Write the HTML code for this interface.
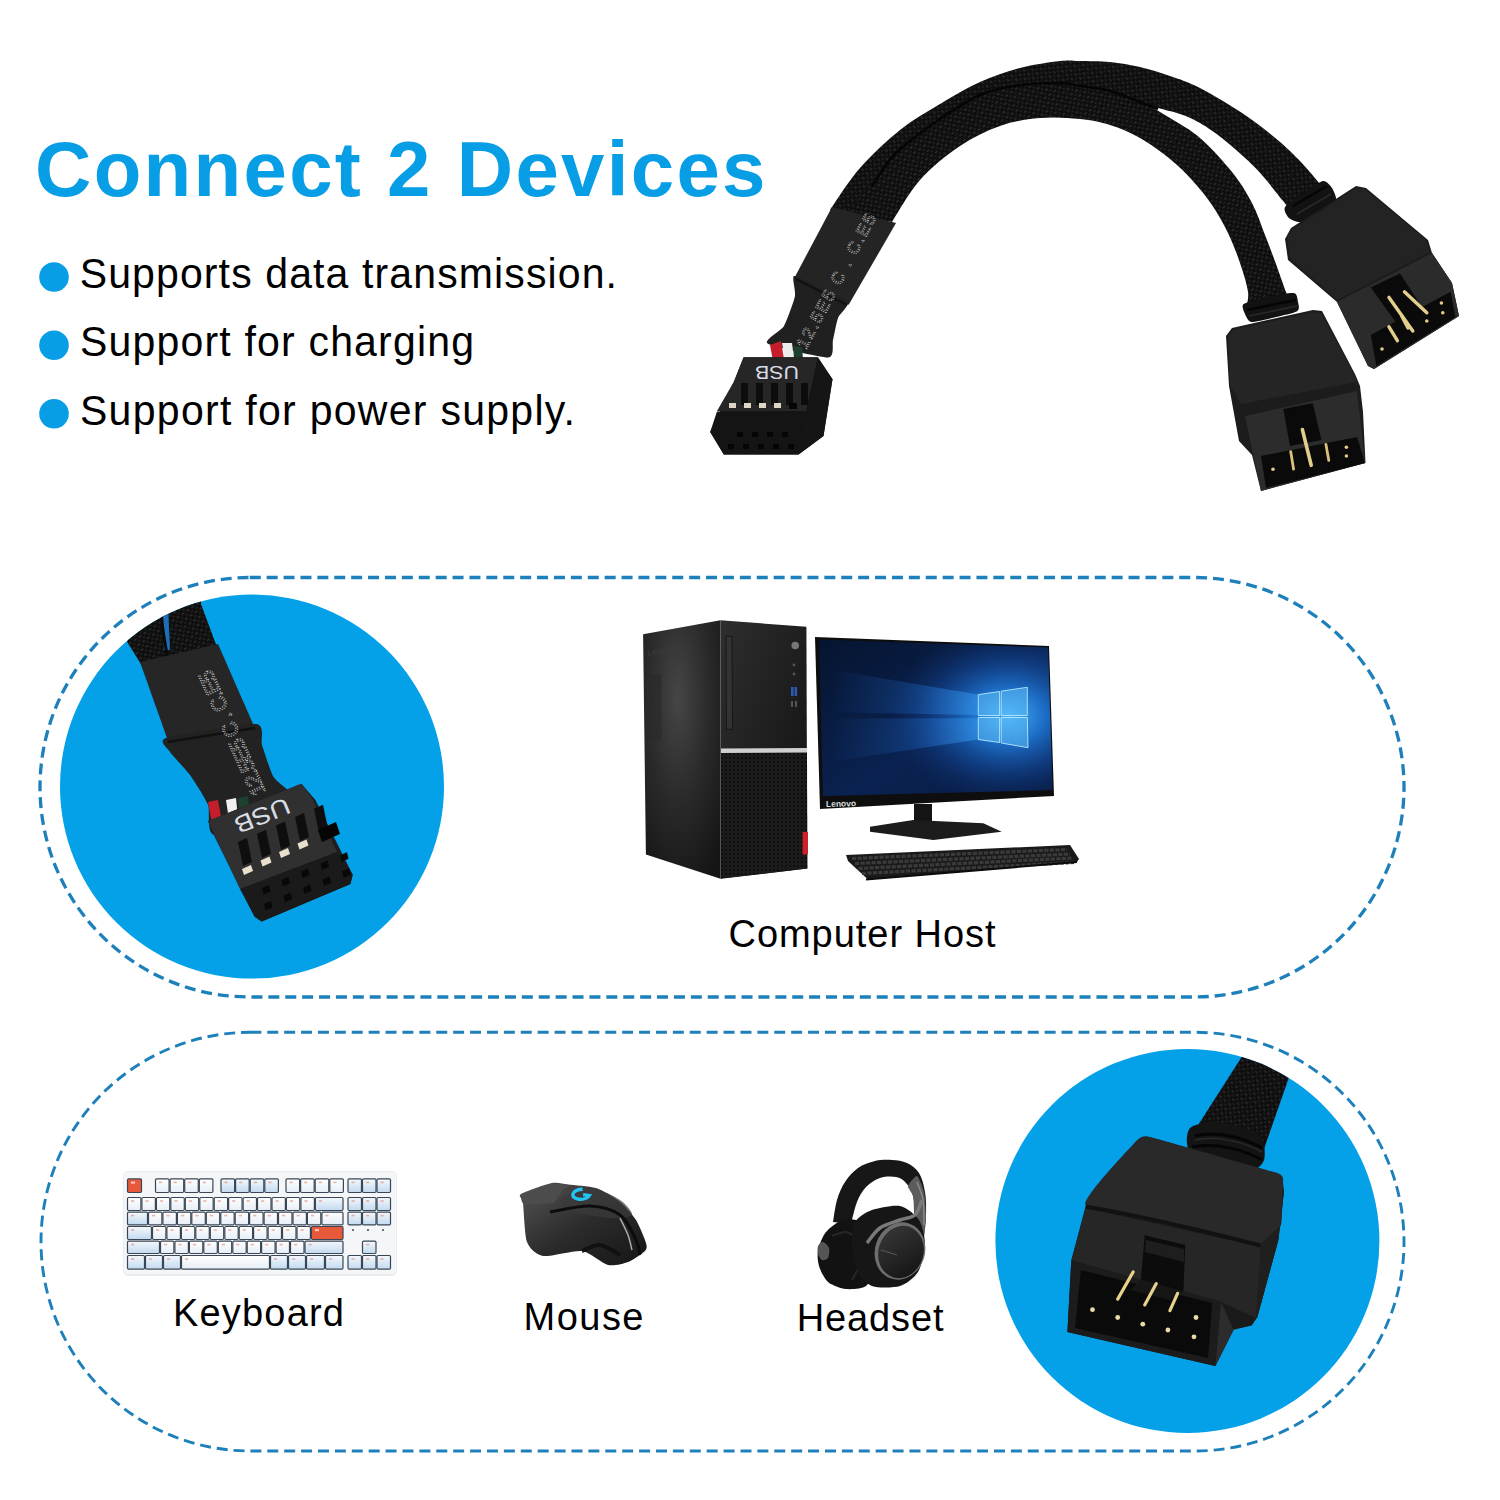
<!DOCTYPE html>
<html><head><meta charset="utf-8">
<style>
html,body{margin:0;padding:0;background:#fff;width:1500px;height:1500px;overflow:hidden}
svg{position:absolute;left:0;top:0;display:block}
text{font-family:"Liberation Sans",sans-serif}
</style></head><body>
<svg width="1500" height="1500" viewBox="0 0 1500 1500">

<defs>
  <clipPath id="c1"><circle cx="252" cy="786.6" r="192"/></clipPath>
  <clipPath id="c2"><circle cx="1187.4" cy="1241" r="192"/></clipPath>
  <pattern id="braid" width="6" height="6" patternUnits="userSpaceOnUse" patternTransform="rotate(40)">
    <rect width="6" height="6" fill="#0d0d0d"/>
    <rect x="0" y="0.8" width="3.6" height="1.6" rx="0.8" fill="#2a2a2a"/>
    <rect x="3" y="3.8" width="3.6" height="1.6" rx="0.8" fill="#1f1f1f"/>
  </pattern>
  <pattern id="braid2" width="6" height="6" patternUnits="userSpaceOnUse" patternTransform="rotate(-35)">
    <rect width="6" height="6" fill="#0d0d0d"/>
    <rect x="0" y="0.8" width="3.6" height="1.6" rx="0.8" fill="#2c2c2c"/>
    <rect x="3" y="3.8" width="3.6" height="1.6" rx="0.8" fill="#202020"/>
  </pattern>
  <radialGradient id="scr" cx="0.72" cy="0.5" r="0.8">
    <stop offset="0" stop-color="#48b4f4"/>
    <stop offset="0.18" stop-color="#1c78d0"/>
    <stop offset="0.5" stop-color="#0e4492"/>
    <stop offset="1" stop-color="#06163c"/>
  </radialGradient>
  <radialGradient id="side" cx="0.45" cy="0.3" r="0.8">
    <stop offset="0" stop-color="#464646"/>
    <stop offset="0.5" stop-color="#2a2a2a"/>
    <stop offset="1" stop-color="#151515"/>
  </radialGradient>
  <linearGradient id="front" x1="0" y1="0" x2="1" y2="1">
    <stop offset="0" stop-color="#2e2e2e"/>
    <stop offset="1" stop-color="#101010"/>
  </linearGradient>
  <pattern id="mesh" width="4" height="4" patternUnits="userSpaceOnUse">
    <rect width="4" height="4" fill="#1b1b1b"/>
    <circle cx="2" cy="2" r="1.1" fill="#0c0c0c"/>
  </pattern>
  <linearGradient id="mouseg" x1="0" y1="0" x2="1" y2="1">
    <stop offset="0" stop-color="#555"/>
    <stop offset="0.5" stop-color="#2c2c2c"/>
    <stop offset="1" stop-color="#151515"/>
  </linearGradient>
  <linearGradient id="headg" x1="0" y1="0" x2="1" y2="1">
    <stop offset="0" stop-color="#3a3a3a"/>
    <stop offset="1" stop-color="#111"/>
  </linearGradient>
  <linearGradient id="keyb" x1="0" y1="0" x2="0" y2="1">
    <stop offset="0" stop-color="#f4f8fc"/>
    <stop offset="1" stop-color="#c2daf0"/>
  </linearGradient>
  <linearGradient id="keyw" x1="0" y1="0" x2="0" y2="1">
    <stop offset="0" stop-color="#ffffff"/>
    <stop offset="1" stop-color="#e6eef6"/>
  </linearGradient>
</defs>

<rect width="1500" height="1500" fill="#fff"/>

<text x="35" y="196" font-size="78" font-weight="bold" fill="#089ee6" textLength="730.5" lengthAdjust="spacing">Connect 2 Devices</text>
<circle cx="54" cy="277" r="14.8" fill="#089ee6"/>
<circle cx="54" cy="345.2" r="14.8" fill="#089ee6"/>
<circle cx="54" cy="413.7" r="14.8" fill="#089ee6"/>
<text x="79.7" y="0" font-size="41" fill="#000" textLength="537.3" lengthAdjust="spacing" transform="translate(0,287.6) scale(1,1.054)">Supports data transmission.</text>
<text x="80" y="0" font-size="41" fill="#000" textLength="394" lengthAdjust="spacing" transform="translate(0,356.2) scale(1,1.054)">Support for charging</text>
<text x="80" y="0" font-size="41" fill="#000" textLength="495" lengthAdjust="spacing" transform="translate(0,424.7) scale(1,1.054)">Support for power supply.</text>

<path d="M830.0,210.0 C835.0,203.0 848.3,181.3 860.0,168.0 C871.7,154.7 886.7,140.7 900.0,130.0 C913.3,119.3 926.7,112.0 940.0,104.0 C953.3,96.0 966.7,88.0 980.0,82.0 C993.3,76.0 1006.7,71.5 1020.0,68.0 C1033.3,64.5 1050.0,62.2 1060.0,61.0 C1070.0,59.8 1071.7,60.8 1080.0,61.0 C1088.3,61.2 1100.0,61.0 1110.0,62.0 C1120.0,63.0 1130.0,64.7 1140.0,67.0 C1150.0,69.3 1160.0,72.5 1170.0,76.0 C1180.0,79.5 1187.4,81.5 1200.0,88.0 C1212.6,94.5 1232.5,106.6 1245.4,115.2 C1258.3,123.8 1268.3,132.2 1277.4,139.8 C1286.5,147.5 1292.9,153.7 1300.0,161.1 C1307.1,168.5 1316.7,180.2 1320.0,184.0 L1295.0,216.0 C1293.8,214.7 1290.0,210.6 1288.0,208.0 C1286.0,205.4 1288.0,207.2 1282.7,200.6 C1277.4,194.0 1265.8,178.7 1256.0,168.6 C1246.2,158.5 1233.3,147.4 1224.0,139.8 C1214.7,132.2 1207.3,127.3 1200.0,123.0 C1192.7,118.7 1187.0,116.5 1180.0,114.0 C1173.0,111.5 1169.7,111.2 1158.0,108.0 C1146.3,104.8 1129.7,96.3 1110.0,95.0 C1090.3,93.7 1061.7,95.8 1040.0,100.0 C1018.3,104.2 1000.0,108.3 980.0,120.0 C960.0,131.7 936.7,153.7 920.0,170.0 C903.3,186.3 886.7,210.0 880.0,218.0 Z" fill="url(#braid)"/>
<path d="M846.0,214.0 C850.0,209.3 861.7,196.3 870.0,186.0 C878.3,175.7 884.3,163.3 896.0,152.0 C907.7,140.7 926.0,127.7 940.0,118.0 C954.0,108.3 966.7,99.7 980.0,94.0 C993.3,88.3 1006.7,86.0 1020.0,84.0 C1033.3,82.0 1050.0,81.8 1060.0,82.0 C1070.0,82.2 1071.7,83.7 1080.0,85.0 C1088.3,86.3 1100.0,87.3 1110.0,90.0 C1120.0,92.7 1130.0,96.3 1140.0,101.0 C1150.0,105.7 1160.0,111.8 1170.0,118.0 C1180.0,124.2 1189.7,129.0 1200.0,138.0 C1210.3,147.0 1223.3,161.2 1232.0,172.0 C1240.7,182.8 1246.5,192.5 1252.0,203.0 C1257.5,213.5 1261.0,224.8 1265.0,235.0 C1269.0,245.2 1272.5,254.5 1276.0,264.0 C1279.5,273.5 1283.3,285.0 1286.0,292.0 C1288.7,299.0 1291.0,303.7 1292.0,306.0 L1246.0,308.0 C1246.3,305.3 1249.0,299.5 1248.0,292.0 C1247.0,284.5 1243.3,272.8 1240.0,263.0 C1236.7,253.2 1232.7,242.7 1228.0,233.0 C1223.3,223.3 1218.0,213.8 1212.0,205.0 C1206.0,196.2 1199.0,187.7 1192.0,180.0 C1185.0,172.3 1178.7,166.0 1170.0,159.0 C1161.3,152.0 1150.0,143.7 1140.0,138.0 C1130.0,132.3 1120.0,128.2 1110.0,125.0 C1100.0,121.8 1091.7,120.2 1080.0,119.0 C1068.3,117.8 1053.3,116.8 1040.0,118.0 C1026.7,119.2 1013.3,121.3 1000.0,126.0 C986.7,130.7 973.3,137.0 960.0,146.0 C946.7,155.0 931.3,167.3 920.0,180.0 C908.7,192.7 896.7,215.0 892.0,222.0 Z" fill="url(#braid2)"/>
<path d="M872.0,186.0 C876.0,180.5 884.7,164.2 896.0,153.0 C907.3,141.8 926.0,128.7 940.0,119.0 C954.0,109.3 966.7,100.7 980.0,95.0 C993.3,89.3 1006.7,87.0 1020.0,85.0 C1033.3,83.0 1050.0,82.8 1060.0,83.0 C1070.0,83.2 1071.7,84.7 1080.0,86.0 C1088.3,87.3 1100.0,88.3 1110.0,91.0 C1120.0,93.7 1132.0,99.0 1140.0,102.0 C1148.0,105.0 1155.0,107.8 1158.0,109.0" fill="none" stroke="#050505" stroke-width="2.5"/>
<path d="M1285.0,207.0 C1286.9,204.0 1300.6,195.0 1305.0,192.0 C1309.4,189.0 1319.8,181.5 1323.0,181.0 C1326.2,180.5 1330.5,185.6 1332.0,188.0 C1333.5,190.4 1337.6,199.0 1336.0,202.0 C1334.4,205.0 1322.1,211.7 1318.0,214.0 C1313.9,216.3 1304.4,221.5 1301.0,222.0 C1297.6,222.5 1290.9,219.8 1289.0,218.0 C1287.1,216.2 1283.1,210.0 1285.0,207.0 Z" fill="#121212"/>
<path d="M1293,206 L1327,186" stroke="#050505" stroke-width="2.5"/><path d="M1297,214 L1331,194" stroke="#2a2a2a" stroke-width="1.5"/>
<path d="M1243.7,304.0 C1246.4,302.0 1262.1,298.3 1268.0,297.0 C1273.9,295.7 1290.4,292.5 1293.9,293.1 C1297.4,293.7 1297.6,299.9 1298.0,302.0 C1298.4,304.1 1300.1,309.3 1297.1,311.2 C1294.1,313.1 1277.4,316.7 1272.0,318.0 C1266.6,319.3 1254.4,322.5 1251.2,322.0 C1248.0,321.5 1245.9,316.1 1245.0,314.0 C1244.1,311.9 1241.0,306.0 1243.7,304.0 Z" fill="#121212"/>
<path d="M1247,310 L1296,300" stroke="#050505" stroke-width="2.5"/><path d="M1249,316 L1297,306" stroke="#2a2a2a" stroke-width="1.5"/>
<path d="M832.0,207.0 L896.0,223.0 L894.3,226.0 L848.7,304.8 L794.2,278.2 Z" fill="#242424"/>
<path d="M794.0,276.0 C796.5,275.2 814.6,285.4 820.0,288.0 C825.4,290.6 846.2,299.0 848.0,302.0 C849.8,305.0 839.5,314.2 838.0,318.0 C836.5,321.8 834.0,336.1 833.0,340.0 C832.0,343.9 834.9,357.1 828.4,357.4 C821.9,357.7 772.0,346.5 767.6,343.4 C763.2,340.3 781.3,330.7 784.0,326.0 C786.7,321.3 794.0,301.0 795.0,296.0 C796.0,291.0 791.5,276.8 794.0,276.0 Z" fill="#202020"/>
<path d="M796,279 L847,305" stroke="#111" stroke-width="2"/>
<text font-size="17" fill="none" stroke="#c8c8c8" stroke-width="1" stroke-dasharray="0.9 1.4" transform="translate(806,350) rotate(-62)" textLength="150" lengthAdjust="spacing">12.5E5 C . C.E5</text>
<path d="M770,345 L781,341 L784,359 L773,361 Z" fill="#c41e2a"/>
<path d="M782,343 L792,343 L794,359 L785,359 Z" fill="#ececec"/>
<path d="M793,346 L802,347 L803,359 L794,359 Z" fill="#1f3f2c"/>
<path d="M743.6,357.2 L817.8,357.2 L832.5,379.3 L823.5,436.0 L798.6,454.6 L723.8,454.6 L710.2,432.0 L734.0,381.6 Z" fill="#1c1c1c"/>
<path d="M743.6,357.2 L817.8,357.2 L820.0,372.0 L806.0,411.0 L717.0,411.0 L734.0,381.6 Z" fill="#262626"/>
<path d="M817.8,357.2 L832.5,379.3 L823.5,436.0 L798.6,454.6 L806.0,411.0 Z" fill="#151515"/>
<path d="M717.0,411.6 L806.0,411.0 L798.6,454.6 L723.8,454.6 L710.2,432.0 Z" fill="#141414"/>
<text font-size="19" fill="#d6dbe6" transform="translate(799,366) rotate(180)" textLength="44" lengthAdjust="spacingAndGlyphs">USB</text>
<rect x="741" y="383" width="7" height="22" fill="#0c0c0c"/>
<rect x="756" y="383" width="7" height="22" fill="#0c0c0c"/>
<rect x="771" y="383" width="7" height="22" fill="#0c0c0c"/>
<rect x="786" y="383" width="7" height="22" fill="#0c0c0c"/>
<rect x="801" y="383" width="7" height="22" fill="#0c0c0c"/>
<rect x="729" y="403" width="7" height="5" fill="#dcd6c2"/>
<rect x="744" y="403" width="7" height="5" fill="#dcd6c2"/>
<rect x="759" y="403" width="7" height="5" fill="#dcd6c2"/>
<rect x="774" y="403" width="7" height="5" fill="#dcd6c2"/>
<rect x="789" y="403" width="8" height="6" fill="#050505"/>
<rect x="737" y="432" width="6" height="5" fill="#050505"/>
<rect x="752" y="432" width="6" height="5" fill="#050505"/>
<rect x="767" y="432" width="6" height="5" fill="#050505"/>
<rect x="782" y="432" width="6" height="5" fill="#050505"/>
<rect x="728" y="444" width="6" height="5" fill="#050505"/>
<rect x="743" y="444" width="6" height="5" fill="#050505"/>
<rect x="758" y="444" width="6" height="5" fill="#050505"/>
<rect x="773" y="444" width="6" height="5" fill="#050505"/>
<rect x="788" y="444" width="6" height="5" fill="#050505"/>
<path d="M1285.0,239.0 L1291.0,228.0 L1356.0,186.0 L1366.0,188.0 L1428.0,240.0 L1432.0,253.0 L1452.0,283.0 L1459.0,316.0 L1374.0,369.0 L1368.0,366.0 L1337.0,302.0 L1288.0,260.0 Z" fill="#1c1c1c"/>
<path d="M1287.0,236.0 L1293.0,229.0 L1356.0,188.0 L1365.0,189.0 L1426.0,240.0 L1430.0,252.0 L1337.0,300.0 L1290.0,258.0 Z" fill="#232323"/>
<path d="M1337.0,302.0 L1432.0,253.0 L1452.0,283.0 L1459.0,316.0 L1374.0,369.0 L1368.0,366.0 Z" fill="#2b2b2b"/>
<path d="M1370.8,335.1 L1450.5,291.8 L1455.4,317.0 L1376.4,366.0 Z" fill="#0a0a0a"/>
<path d="M1370.8,287.6 L1400.0,273.6 L1424.0,310.0 L1396.0,322.6 Z" fill="#0a0a0a"/>
<g stroke="#e2cf8c" stroke-width="3.4" stroke-linecap="round" fill="none"><path d="M1389,297.4 L1412.8,331"/><path d="M1401.6,315.6 L1408,328"/><path d="M1389,326.8 L1397.4,340.7"/><path d="M1404.4,291.8 L1426.8,312.8"/></g>
<g fill="#e0cc88"><circle cx="1382" cy="349" r="1.8"/><circle cx="1441.4" cy="303" r="1.8"/><circle cx="1442.8" cy="312.8" r="1.8"/><circle cx="1426.8" cy="321" r="1.8"/></g>
<path d="M1226.0,336.0 L1232.0,328.0 L1313.0,310.0 L1322.0,311.0 L1355.0,374.0 L1360.0,386.0 L1363.0,412.0 L1365.5,463.0 L1261.0,491.0 L1252.0,455.0 L1239.0,441.0 L1229.0,386.0 Z" fill="#1c1c1c"/>
<path d="M1228.0,336.0 L1233.0,330.0 L1313.0,312.0 L1321.0,313.0 L1354.0,374.0 L1357.0,382.0 L1241.0,404.0 L1230.0,385.0 Z" fill="#252525"/>
<path d="M1245.0,416.0 L1357.0,391.0 L1365.0,463.0 L1261.0,491.0 Z" fill="#2c2c2c"/>
<path d="M1283.3,409.0 L1312.7,403.2 L1321.5,440.0 L1290.0,446.0 Z" fill="#0a0a0a"/>
<path d="M1261.0,456.0 L1357.0,437.0 L1365.0,463.0 L1266.0,488.0 Z" fill="#0a0a0a"/>
<g stroke="#e2cf8c" stroke-width="3.6" stroke-linecap="round" fill="none"><path d="M1302.4,429.6 L1311.2,465.3"/></g>
<g stroke="#d8c27a" stroke-width="2.8" stroke-linecap="round" fill="none"><path d="M1290.7,451.6 L1293.6,469.2"/><path d="M1325.9,444.3 L1328.8,460.4"/></g>
<g fill="#e0cc88"><circle cx="1273" cy="469.2" r="1.8"/><circle cx="1346.4" cy="447.2" r="1.8"/><circle cx="1346.4" cy="456" r="1.8"/></g>
<rect x="40" y="577.5" width="1364" height="419.5" rx="209.75" fill="none" stroke="#1e80bb" stroke-width="3.3" stroke-dasharray="11 5.9"/>
<rect x="41" y="1032.3" width="1363" height="418.7" rx="209.35" fill="none" stroke="#1e80bb" stroke-width="2.9" stroke-dasharray="11 5.9"/>
<circle cx="252" cy="786.6" r="192" fill="#04a0e8"/>
<circle cx="1187.4" cy="1241" r="192" fill="#04a0e8"/>
<g clip-path="url(#c1)">
<path d="M118.0,560.0 L200.0,560.0 L201.0,604.0 L217.3,648.0 L142.7,667.0 L127.5,642.5 Z" fill="url(#braid2)"/>
<path d="M160.0,560.0 L166.0,560.0 L170.0,650.0 L164.0,650.0 Z" fill="#1c6fb8"/>
<path d="M160.0,600.0 C160.5,605.0 161.7,620.0 163.0,630.0 C164.3,640.0 167.2,655.0 168.0,660.0" stroke="#0a0a0a" stroke-width="3" fill="none"/>
<path d="M140.0,662.0 L218.0,644.0 L254.7,727.7 L168.3,741.7 Z" fill="#262626"/>
<path d="M166.0,738.0 C174.6,735.2 246.4,723.3 256.0,724.0 C265.6,724.7 260.3,739.7 262.0,745.0 C263.7,750.3 270.6,772.0 273.4,776.7 C276.2,781.4 287.3,788.7 290.0,792.0 C292.7,795.3 307.5,805.7 300.0,810.0 C292.5,814.3 224.2,835.5 215.0,835.0 C205.8,834.5 210.5,810.7 208.0,804.7 C205.5,798.7 193.8,780.3 190.0,775.0 C186.2,769.7 172.4,755.7 170.0,752.0 C167.6,748.3 157.4,740.8 166.0,738.0 Z" fill="#222"/>
<path d="M168,742 L255,728" stroke="#111" stroke-width="2.5"/>
<text font-size="21" fill="none" stroke="#d0d0d0" stroke-width="1.1" stroke-dasharray="1 1.5" transform="translate(266,792) rotate(-114)" textLength="135" lengthAdjust="spacing">12.5E5 C . C.E5</text>
<path d="M208,802 L218,800 L222,822 L212,824 Z" fill="#c41e2a"/>
<path d="M226,800 L236,798 L238,818 L229,820 Z" fill="#f0f0f0"/>
<path d="M238,798 L248,796 L250,816 L240,818 Z" fill="#1e4030"/>
<path d="M208.0,821.0 L301.4,783.7 L315.4,800.0 L352.7,874.7 L350.4,884.0 L261.7,921.4 L254.7,916.7 L215.0,837.4 Z" fill="#1e1e1e"/>
<path d="M208.0,821.0 L301.4,783.7 L312.0,798.0 L337.0,852.0 L240.0,889.0 L216.0,838.0 Z" fill="#303030"/>
<path d="M240.0,889.0 L337.0,852.0 L352.7,874.7 L350.4,884.0 L261.7,921.4 L254.7,916.7 Z" fill="#1a1a1a"/>
<text font-size="24" fill="#d8dde6" transform="translate(286,797) rotate(158)" textLength="58" lengthAdjust="spacingAndGlyphs">USB</text>
<path d="M238.0,842.0 L247.0,838.0 L252.0,862.0 L243.0,866.0 Z" fill="#0e0e0e"/>
<path d="M257.0,833.7 L266.0,829.7 L271.0,853.7 L262.0,857.7 Z" fill="#0e0e0e"/>
<path d="M276.0,825.4 L285.0,821.4 L290.0,845.4 L281.0,849.4 Z" fill="#0e0e0e"/>
<path d="M295.0,817.1 L304.0,813.1 L309.0,837.1 L300.0,841.1 Z" fill="#0e0e0e"/>
<path d="M314.0,808.8 L323.0,804.8 L328.0,828.8 L319.0,832.8 Z" fill="#0e0e0e"/>
<path d="M242.0,869.0 L251.0,865.0 L253.0,871.0 L244.0,875.0 Z" fill="#e8e0cc"/>
<path d="M260.5,860.5 L269.5,856.5 L271.5,862.5 L262.5,866.5 Z" fill="#e8e0cc"/>
<path d="M279.0,852.0 L288.0,848.0 L290.0,854.0 L281.0,858.0 Z" fill="#e8e0cc"/>
<path d="M297.5,843.5 L306.5,839.5 L308.5,845.5 L299.5,849.5 Z" fill="#e8e0cc"/>
<path d="M318.0,830.0 L336.0,822.0 L340.0,834.0 L322.0,842.0 Z" fill="#050505"/>
<path d="M262.0,888.0 L269.0,885.0 L270.5,891.5 L263.5,894.5 Z" fill="#080808"/>
<path d="M281.5,879.8 L288.5,876.8 L290.0,883.3 L283.0,886.3 Z" fill="#080808"/>
<path d="M301.0,871.6 L308.0,868.6 L309.5,875.1 L302.5,878.1 Z" fill="#080808"/>
<path d="M320.5,863.4 L327.5,860.4 L329.0,866.9 L322.0,869.9 Z" fill="#080808"/>
<path d="M340.0,855.2 L347.0,852.2 L348.5,858.7 L341.5,861.7 Z" fill="#080808"/>
<path d="M264.0,904.0 L271.0,901.0 L272.5,907.5 L265.5,910.5 Z" fill="#080808"/>
<path d="M283.5,895.8 L290.5,892.8 L292.0,899.3 L285.0,902.3 Z" fill="#080808"/>
<path d="M303.0,887.6 L310.0,884.6 L311.5,891.1 L304.5,894.1 Z" fill="#080808"/>
<path d="M322.5,879.4 L329.5,876.4 L331.0,882.9 L324.0,885.9 Z" fill="#080808"/>
<path d="M342.0,871.2 L349.0,868.2 L350.5,874.7 L343.5,877.7 Z" fill="#080808"/>
</g>
<path d="M643.1,634.3 L720.5,620.3 L720.5,878.8 L645.9,854.5 Z" fill="url(#side)"/>
<path d="M720.5,620.3 L806.4,626.8 L807.3,868.5 L720.5,878.8 Z" fill="url(#front)"/>
<path d="M721.0,753.0 L807.0,752.5 L807.3,868.5 L721.0,878.5 Z" fill="url(#mesh)"/>
<path d="M721.0,748.5 L807.0,748.0 L807.0,752.5 L721.0,753.0 Z" fill="#d0d0d0"/>
<rect x="802.5" y="832" width="5.5" height="22.5" fill="#c8232c"/>
<path d="M726.0,636.0 L732.0,636.5 L732.5,729.5 L726.5,729.0 Z" fill="#333" stroke="#111" stroke-width="0.8"/>
<circle cx="795.2" cy="645.5" r="3.8" fill="#777"/>
<rect x="791" y="687" width="2.6" height="9" fill="#2d5ab0"/><rect x="794.5" y="687" width="2.6" height="9" fill="#2d5ab0"/><rect x="791" y="701" width="2" height="6" fill="#555"/><rect x="795" y="701" width="2" height="6" fill="#555"/><circle cx="794" cy="665" r="1.4" fill="#555"/><circle cx="794" cy="674" r="1.4" fill="#555"/>
<rect x="649.6" y="674.4" width="12" height="66" fill="#2a2a2a" opacity="0.6"/>
<text x="648" y="656" font-size="8" fill="#3c3c3c" transform="rotate(-10 648 656)">Lenovo</text>
<defs><radialGradient id="glow" gradientUnits="userSpaceOnUse" cx="1008" cy="716" r="120" gradientTransform="translate(1008 716) scale(1 0.75) translate(-1008 -716)"><stop offset="0" stop-color="#49b2f5" stop-opacity="1"/><stop offset="0.3" stop-color="#1f78d6" stop-opacity="0.9"/><stop offset="0.65" stop-color="#1550a8" stop-opacity="0.45"/><stop offset="1" stop-color="#0c2f70" stop-opacity="0"/></radialGradient><linearGradient id="beam" gradientUnits="userSpaceOnUse" x1="830" y1="0" x2="1000" y2="0"><stop offset="0" stop-color="#1c5fb8" stop-opacity="0"/><stop offset="0.5" stop-color="#1d64c0" stop-opacity="0.35"/><stop offset="1" stop-color="#3a9ef0" stop-opacity="0.85"/></linearGradient><linearGradient id="scrbase" x1="0" y1="0" x2="1" y2="1"><stop offset="0" stop-color="#06142f"/><stop offset="0.55" stop-color="#0a2250"/><stop offset="1" stop-color="#081c44"/></linearGradient></defs>
<path d="M815.0,637.0 L1049.0,646.0 L1054.0,796.0 L820.0,809.0 Z" fill="#0e0e0e"/>
<path d="M819.0,639.5 L1048.0,647.5 L1052.5,790.0 L823.0,796.0 Z" fill="url(#scrbase)"/>
<g clip-path="url(#scrclip)">
<clipPath id="scrclip"><path d="M819.0,639.5 L1048.0,647.5 L1052.5,790.0 L823.0,796.0 Z"/></clipPath>
<rect x="815" y="635" width="240" height="165" fill="url(#glow)"/>
<path d="M815.0,667.0 L978.0,694.6 L978.0,715.0 L815.0,712.0 Z" fill="url(#beam)"/>
<path d="M815.0,718.5 L978.0,718.3 L978.0,739.5 L815.0,764.0 Z" fill="url(#beam)"/>
</g>
<g fill="#5ec0f8" fill-opacity="0.55" stroke="#b6e8ff" stroke-width="0.9"><path d="M978.3,694.6 L999.6,691.5 L999.6,715.5 L978.3,715.5 Z"/><path d="M1001.2,691.2 L1027.3,687.3 L1027.3,715.5 L1001.2,715.5 Z"/><path d="M978.3,717.5 L999.6,717.5 L999.6,742.5 L978.3,739.5 Z"/><path d="M1001.2,717.5 L1027.3,717.5 L1028.0,747.7 L1001.2,743.0 Z"/></g>
<text x="826" y="807" font-size="8.5" fill="#dcdcdc" font-weight="bold" transform="rotate(-1.5 826 807)">Lenovo</text>
<rect x="914" y="804" width="18" height="17" fill="#141414"/>
<path d="M870.0,826.7 L913.3,820.0 L983.3,823.3 L1001.7,831.7 L933.3,840.0 L870.0,831.7 Z" fill="#1c1c1c"/>
<path d="M846.0,855.0 L1070.0,845.0 L1079.0,859.0 L1077.0,862.0 L868.0,879.5 L848.0,861.0 Z" fill="#1a1a1a"/>
<g stroke="#3a3a3a" stroke-width="3.2" stroke-dasharray="4.2 1.3" fill="none"><path d="M852,858.5 L1067,849.5"/><path d="M855,863.5 L1070,854"/><path d="M858.5,868.5 L1072,858"/><path d="M862,873.5 L1074,862.5"/></g>
<path d="M866,879.5 L1077,862" stroke="#0c0c0c" stroke-width="2"/>
<rect x="123" y="1171" width="274" height="105" rx="5" fill="#e8ecef"/>
<rect x="124" y="1172" width="272" height="102" rx="4" fill="#f4f6f8"/>
<rect x="127.5" y="1178.9" width="14.0" height="13.6" rx="1.2" fill="#e8583a" stroke="#3a4653" stroke-width="1.2"/>
<rect x="131.0" y="1181.6" width="4" height="2" fill="#ffd8cc" opacity="0.9"/>
<rect x="155.5" y="1178.9" width="13.6" height="13.6" rx="1.2" fill="url(#keyw)" stroke="#3a4653" stroke-width="1.2"/>
<rect x="159.0" y="1181.6" width="3.2" height="1.6" fill="#e07868" opacity="0.55"/>
<rect x="170.1" y="1178.9" width="13.6" height="13.6" rx="1.2" fill="url(#keyw)" stroke="#3a4653" stroke-width="1.2"/>
<rect x="173.6" y="1181.6" width="3.2" height="1.6" fill="#e07868" opacity="0.55"/>
<rect x="184.7" y="1178.9" width="13.6" height="13.6" rx="1.2" fill="url(#keyw)" stroke="#3a4653" stroke-width="1.2"/>
<rect x="188.2" y="1181.6" width="3.2" height="1.6" fill="#e07868" opacity="0.55"/>
<rect x="199.3" y="1178.9" width="13.6" height="13.6" rx="1.2" fill="url(#keyw)" stroke="#3a4653" stroke-width="1.2"/>
<rect x="202.8" y="1181.6" width="3.2" height="1.6" fill="#e07868" opacity="0.55"/>
<rect x="221.0" y="1178.9" width="13.6" height="13.6" rx="1.2" fill="url(#keyb)" stroke="#3a4653" stroke-width="1.2"/>
<rect x="224.5" y="1181.6" width="3.2" height="1.6" fill="#e07868" opacity="0.55"/>
<rect x="235.6" y="1178.9" width="13.6" height="13.6" rx="1.2" fill="url(#keyb)" stroke="#3a4653" stroke-width="1.2"/>
<rect x="239.1" y="1181.6" width="3.2" height="1.6" fill="#e07868" opacity="0.55"/>
<rect x="250.2" y="1178.9" width="13.6" height="13.6" rx="1.2" fill="url(#keyb)" stroke="#3a4653" stroke-width="1.2"/>
<rect x="253.7" y="1181.6" width="3.2" height="1.6" fill="#e07868" opacity="0.55"/>
<rect x="264.8" y="1178.9" width="13.6" height="13.6" rx="1.2" fill="url(#keyb)" stroke="#3a4653" stroke-width="1.2"/>
<rect x="268.3" y="1181.6" width="3.2" height="1.6" fill="#e07868" opacity="0.55"/>
<rect x="286.0" y="1178.9" width="13.6" height="13.6" rx="1.2" fill="url(#keyw)" stroke="#3a4653" stroke-width="1.2"/>
<rect x="289.5" y="1181.6" width="3.2" height="1.6" fill="#e07868" opacity="0.55"/>
<rect x="300.6" y="1178.9" width="13.6" height="13.6" rx="1.2" fill="url(#keyw)" stroke="#3a4653" stroke-width="1.2"/>
<rect x="304.1" y="1181.6" width="3.2" height="1.6" fill="#e07868" opacity="0.55"/>
<rect x="315.2" y="1178.9" width="13.6" height="13.6" rx="1.2" fill="url(#keyw)" stroke="#3a4653" stroke-width="1.2"/>
<rect x="318.7" y="1181.6" width="3.2" height="1.6" fill="#e07868" opacity="0.55"/>
<rect x="329.8" y="1178.9" width="13.6" height="13.6" rx="1.2" fill="url(#keyw)" stroke="#3a4653" stroke-width="1.2"/>
<rect x="333.3" y="1181.6" width="3.2" height="1.6" fill="#e07868" opacity="0.55"/>
<rect x="348.0" y="1178.9" width="13.5" height="13.6" rx="1.2" fill="url(#keyb)" stroke="#3a4653" stroke-width="1.2"/>
<rect x="351.5" y="1181.6" width="3.2" height="1.6" fill="#e07868" opacity="0.55"/>
<rect x="362.5" y="1178.9" width="13.5" height="13.6" rx="1.2" fill="url(#keyb)" stroke="#3a4653" stroke-width="1.2"/>
<rect x="366.0" y="1181.6" width="3.2" height="1.6" fill="#e07868" opacity="0.55"/>
<rect x="377.0" y="1178.9" width="13.5" height="13.6" rx="1.2" fill="url(#keyb)" stroke="#3a4653" stroke-width="1.2"/>
<rect x="380.5" y="1181.6" width="3.2" height="1.6" fill="#e07868" opacity="0.55"/>
<rect x="348.0" y="1197.5" width="13.5" height="13.0" rx="1.2" fill="url(#keyb)" stroke="#3a4653" stroke-width="1.2"/>
<rect x="351.5" y="1200.2" width="3.2" height="1.6" fill="#e07868" opacity="0.55"/>
<rect x="362.5" y="1197.5" width="13.5" height="13.0" rx="1.2" fill="url(#keyb)" stroke="#3a4653" stroke-width="1.2"/>
<rect x="366.0" y="1200.2" width="3.2" height="1.6" fill="#e07868" opacity="0.55"/>
<rect x="377.0" y="1197.5" width="13.5" height="13.0" rx="1.2" fill="url(#keyb)" stroke="#3a4653" stroke-width="1.2"/>
<rect x="380.5" y="1200.2" width="3.2" height="1.6" fill="#e07868" opacity="0.55"/>
<rect x="348.0" y="1212.1" width="13.5" height="12.8" rx="1.2" fill="url(#keyb)" stroke="#3a4653" stroke-width="1.2"/>
<rect x="351.5" y="1214.8" width="3.2" height="1.6" fill="#e07868" opacity="0.55"/>
<rect x="362.5" y="1212.1" width="13.5" height="12.8" rx="1.2" fill="url(#keyb)" stroke="#3a4653" stroke-width="1.2"/>
<rect x="366.0" y="1214.8" width="3.2" height="1.6" fill="#e07868" opacity="0.55"/>
<rect x="377.0" y="1212.1" width="13.5" height="12.8" rx="1.2" fill="url(#keyb)" stroke="#3a4653" stroke-width="1.2"/>
<rect x="380.5" y="1214.8" width="3.2" height="1.6" fill="#e07868" opacity="0.55"/>
<rect x="127.5" y="1197.5" width="13.4" height="13.0" rx="1.2" fill="url(#keyw)" stroke="#3a4653" stroke-width="1.2"/>
<rect x="131.0" y="1200.2" width="3.2" height="1.6" fill="#e07868" opacity="0.55"/>
<rect x="141.9" y="1197.5" width="13.5" height="13.0" rx="1.2" fill="url(#keyw)" stroke="#3a4653" stroke-width="1.2"/>
<rect x="145.4" y="1200.2" width="3.2" height="1.6" fill="#e07868" opacity="0.55"/>
<rect x="156.4" y="1197.5" width="13.4" height="13.0" rx="1.2" fill="url(#keyw)" stroke="#3a4653" stroke-width="1.2"/>
<rect x="159.9" y="1200.2" width="3.2" height="1.6" fill="#e07868" opacity="0.55"/>
<rect x="170.8" y="1197.5" width="13.5" height="13.0" rx="1.2" fill="url(#keyw)" stroke="#3a4653" stroke-width="1.2"/>
<rect x="174.3" y="1200.2" width="3.2" height="1.6" fill="#e07868" opacity="0.55"/>
<rect x="185.3" y="1197.5" width="13.4" height="13.0" rx="1.2" fill="url(#keyw)" stroke="#3a4653" stroke-width="1.2"/>
<rect x="188.8" y="1200.2" width="3.2" height="1.6" fill="#e07868" opacity="0.55"/>
<rect x="199.8" y="1197.5" width="13.4" height="13.0" rx="1.2" fill="url(#keyw)" stroke="#3a4653" stroke-width="1.2"/>
<rect x="203.2" y="1200.2" width="3.2" height="1.6" fill="#e07868" opacity="0.55"/>
<rect x="214.2" y="1197.5" width="13.4" height="13.0" rx="1.2" fill="url(#keyw)" stroke="#3a4653" stroke-width="1.2"/>
<rect x="217.7" y="1200.2" width="3.2" height="1.6" fill="#e07868" opacity="0.55"/>
<rect x="228.6" y="1197.5" width="13.5" height="13.0" rx="1.2" fill="url(#keyw)" stroke="#3a4653" stroke-width="1.2"/>
<rect x="232.1" y="1200.2" width="3.2" height="1.6" fill="#e07868" opacity="0.55"/>
<rect x="243.1" y="1197.5" width="13.4" height="13.0" rx="1.2" fill="url(#keyw)" stroke="#3a4653" stroke-width="1.2"/>
<rect x="246.6" y="1200.2" width="3.2" height="1.6" fill="#e07868" opacity="0.55"/>
<rect x="257.5" y="1197.5" width="13.5" height="13.0" rx="1.2" fill="url(#keyw)" stroke="#3a4653" stroke-width="1.2"/>
<rect x="261.0" y="1200.2" width="3.2" height="1.6" fill="#e07868" opacity="0.55"/>
<rect x="272.0" y="1197.5" width="13.4" height="13.0" rx="1.2" fill="url(#keyw)" stroke="#3a4653" stroke-width="1.2"/>
<rect x="275.5" y="1200.2" width="3.2" height="1.6" fill="#e07868" opacity="0.55"/>
<rect x="286.4" y="1197.5" width="13.4" height="13.0" rx="1.2" fill="url(#keyw)" stroke="#3a4653" stroke-width="1.2"/>
<rect x="289.9" y="1200.2" width="3.2" height="1.6" fill="#e07868" opacity="0.55"/>
<rect x="300.9" y="1197.5" width="13.5" height="13.0" rx="1.2" fill="url(#keyw)" stroke="#3a4653" stroke-width="1.2"/>
<rect x="304.4" y="1200.2" width="3.2" height="1.6" fill="#e07868" opacity="0.55"/>
<rect x="315.4" y="1197.5" width="27.6" height="13.0" rx="1.2" fill="url(#keyb)" stroke="#3a4653" stroke-width="1.2"/>
<rect x="318.9" y="1200.2" width="3.2" height="1.6" fill="#e07868" opacity="0.55"/>
<rect x="127.5" y="1212.1" width="20.0" height="12.8" rx="1.2" fill="url(#keyb)" stroke="#3a4653" stroke-width="1.2"/>
<rect x="131.0" y="1214.8" width="3.2" height="1.6" fill="#e07868" opacity="0.55"/>
<rect x="148.5" y="1212.1" width="13.4" height="12.8" rx="1.2" fill="url(#keyw)" stroke="#3a4653" stroke-width="1.2"/>
<rect x="152.0" y="1214.8" width="3.2" height="1.6" fill="#e07868" opacity="0.55"/>
<rect x="162.9" y="1212.1" width="13.5" height="12.8" rx="1.2" fill="url(#keyw)" stroke="#3a4653" stroke-width="1.2"/>
<rect x="166.4" y="1214.8" width="3.2" height="1.6" fill="#e07868" opacity="0.55"/>
<rect x="177.4" y="1212.1" width="13.4" height="12.8" rx="1.2" fill="url(#keyw)" stroke="#3a4653" stroke-width="1.2"/>
<rect x="180.9" y="1214.8" width="3.2" height="1.6" fill="#e07868" opacity="0.55"/>
<rect x="191.8" y="1212.1" width="13.5" height="12.8" rx="1.2" fill="url(#keyw)" stroke="#3a4653" stroke-width="1.2"/>
<rect x="195.3" y="1214.8" width="3.2" height="1.6" fill="#e07868" opacity="0.55"/>
<rect x="206.3" y="1212.1" width="13.4" height="12.8" rx="1.2" fill="url(#keyw)" stroke="#3a4653" stroke-width="1.2"/>
<rect x="209.8" y="1214.8" width="3.2" height="1.6" fill="#e07868" opacity="0.55"/>
<rect x="220.8" y="1212.1" width="13.4" height="12.8" rx="1.2" fill="url(#keyw)" stroke="#3a4653" stroke-width="1.2"/>
<rect x="224.2" y="1214.8" width="3.2" height="1.6" fill="#e07868" opacity="0.55"/>
<rect x="235.2" y="1212.1" width="13.4" height="12.8" rx="1.2" fill="url(#keyw)" stroke="#3a4653" stroke-width="1.2"/>
<rect x="238.7" y="1214.8" width="3.2" height="1.6" fill="#e07868" opacity="0.55"/>
<rect x="249.6" y="1212.1" width="13.5" height="12.8" rx="1.2" fill="url(#keyw)" stroke="#3a4653" stroke-width="1.2"/>
<rect x="253.1" y="1214.8" width="3.2" height="1.6" fill="#e07868" opacity="0.55"/>
<rect x="264.1" y="1212.1" width="13.4" height="12.8" rx="1.2" fill="url(#keyw)" stroke="#3a4653" stroke-width="1.2"/>
<rect x="267.6" y="1214.8" width="3.2" height="1.6" fill="#e07868" opacity="0.55"/>
<rect x="278.5" y="1212.1" width="13.5" height="12.8" rx="1.2" fill="url(#keyw)" stroke="#3a4653" stroke-width="1.2"/>
<rect x="282.0" y="1214.8" width="3.2" height="1.6" fill="#e07868" opacity="0.55"/>
<rect x="293.0" y="1212.1" width="13.4" height="12.8" rx="1.2" fill="url(#keyw)" stroke="#3a4653" stroke-width="1.2"/>
<rect x="296.5" y="1214.8" width="3.2" height="1.6" fill="#e07868" opacity="0.55"/>
<rect x="307.4" y="1212.1" width="13.4" height="12.8" rx="1.2" fill="url(#keyw)" stroke="#3a4653" stroke-width="1.2"/>
<rect x="310.9" y="1214.8" width="3.2" height="1.6" fill="#e07868" opacity="0.55"/>
<rect x="321.9" y="1212.1" width="21.1" height="12.8" rx="1.2" fill="url(#keyw)" stroke="#3a4653" stroke-width="1.2"/>
<rect x="325.4" y="1214.8" width="3.2" height="1.6" fill="#e07868" opacity="0.55"/>
<rect x="127.5" y="1226.5" width="24.0" height="13.0" rx="1.2" fill="url(#keyb)" stroke="#3a4653" stroke-width="1.2"/>
<rect x="131.0" y="1229.2" width="3.2" height="1.6" fill="#e07868" opacity="0.55"/>
<rect x="152.5" y="1226.5" width="13.4" height="13.0" rx="1.2" fill="url(#keyw)" stroke="#3a4653" stroke-width="1.2"/>
<rect x="156.0" y="1229.2" width="3.2" height="1.6" fill="#e07868" opacity="0.55"/>
<rect x="166.9" y="1226.5" width="13.5" height="13.0" rx="1.2" fill="url(#keyw)" stroke="#3a4653" stroke-width="1.2"/>
<rect x="170.4" y="1229.2" width="3.2" height="1.6" fill="#e07868" opacity="0.55"/>
<rect x="181.4" y="1226.5" width="13.4" height="13.0" rx="1.2" fill="url(#keyw)" stroke="#3a4653" stroke-width="1.2"/>
<rect x="184.9" y="1229.2" width="3.2" height="1.6" fill="#e07868" opacity="0.55"/>
<rect x="195.8" y="1226.5" width="13.5" height="13.0" rx="1.2" fill="url(#keyw)" stroke="#3a4653" stroke-width="1.2"/>
<rect x="199.3" y="1229.2" width="3.2" height="1.6" fill="#e07868" opacity="0.55"/>
<rect x="210.3" y="1226.5" width="13.4" height="13.0" rx="1.2" fill="url(#keyw)" stroke="#3a4653" stroke-width="1.2"/>
<rect x="213.8" y="1229.2" width="3.2" height="1.6" fill="#e07868" opacity="0.55"/>
<rect x="224.8" y="1226.5" width="13.4" height="13.0" rx="1.2" fill="url(#keyw)" stroke="#3a4653" stroke-width="1.2"/>
<rect x="228.2" y="1229.2" width="3.2" height="1.6" fill="#e07868" opacity="0.55"/>
<rect x="239.2" y="1226.5" width="13.4" height="13.0" rx="1.2" fill="url(#keyw)" stroke="#3a4653" stroke-width="1.2"/>
<rect x="242.7" y="1229.2" width="3.2" height="1.6" fill="#e07868" opacity="0.55"/>
<rect x="253.6" y="1226.5" width="13.5" height="13.0" rx="1.2" fill="url(#keyw)" stroke="#3a4653" stroke-width="1.2"/>
<rect x="257.1" y="1229.2" width="3.2" height="1.6" fill="#e07868" opacity="0.55"/>
<rect x="268.1" y="1226.5" width="13.4" height="13.0" rx="1.2" fill="url(#keyw)" stroke="#3a4653" stroke-width="1.2"/>
<rect x="271.6" y="1229.2" width="3.2" height="1.6" fill="#e07868" opacity="0.55"/>
<rect x="282.5" y="1226.5" width="13.5" height="13.0" rx="1.2" fill="url(#keyw)" stroke="#3a4653" stroke-width="1.2"/>
<rect x="286.0" y="1229.2" width="3.2" height="1.6" fill="#e07868" opacity="0.55"/>
<rect x="297.0" y="1226.5" width="13.4" height="13.0" rx="1.2" fill="url(#keyw)" stroke="#3a4653" stroke-width="1.2"/>
<rect x="300.5" y="1229.2" width="3.2" height="1.6" fill="#e07868" opacity="0.55"/>
<rect x="311.4" y="1226.5" width="31.6" height="13.0" rx="1.2" fill="#e8583a" stroke="#3a4653" stroke-width="1.2"/>
<rect x="314.9" y="1229.2" width="4" height="2" fill="#ffd8cc" opacity="0.9"/>
<rect x="127.5" y="1241.1" width="32.0" height="12.4" rx="1.2" fill="url(#keyb)" stroke="#3a4653" stroke-width="1.2"/>
<rect x="131.0" y="1243.8" width="3.2" height="1.6" fill="#e07868" opacity="0.55"/>
<rect x="160.5" y="1241.1" width="13.4" height="12.4" rx="1.2" fill="url(#keyw)" stroke="#3a4653" stroke-width="1.2"/>
<rect x="164.0" y="1243.8" width="3.2" height="1.6" fill="#e07868" opacity="0.55"/>
<rect x="174.9" y="1241.1" width="13.5" height="12.4" rx="1.2" fill="url(#keyw)" stroke="#3a4653" stroke-width="1.2"/>
<rect x="178.4" y="1243.8" width="3.2" height="1.6" fill="#e07868" opacity="0.55"/>
<rect x="189.4" y="1241.1" width="13.4" height="12.4" rx="1.2" fill="url(#keyw)" stroke="#3a4653" stroke-width="1.2"/>
<rect x="192.9" y="1243.8" width="3.2" height="1.6" fill="#e07868" opacity="0.55"/>
<rect x="203.8" y="1241.1" width="13.5" height="12.4" rx="1.2" fill="url(#keyw)" stroke="#3a4653" stroke-width="1.2"/>
<rect x="207.3" y="1243.8" width="3.2" height="1.6" fill="#e07868" opacity="0.55"/>
<rect x="218.3" y="1241.1" width="13.4" height="12.4" rx="1.2" fill="url(#keyw)" stroke="#3a4653" stroke-width="1.2"/>
<rect x="221.8" y="1243.8" width="3.2" height="1.6" fill="#e07868" opacity="0.55"/>
<rect x="232.8" y="1241.1" width="13.4" height="12.4" rx="1.2" fill="url(#keyw)" stroke="#3a4653" stroke-width="1.2"/>
<rect x="236.2" y="1243.8" width="3.2" height="1.6" fill="#e07868" opacity="0.55"/>
<rect x="247.2" y="1241.1" width="13.4" height="12.4" rx="1.2" fill="url(#keyw)" stroke="#3a4653" stroke-width="1.2"/>
<rect x="250.7" y="1243.8" width="3.2" height="1.6" fill="#e07868" opacity="0.55"/>
<rect x="261.6" y="1241.1" width="13.5" height="12.4" rx="1.2" fill="url(#keyw)" stroke="#3a4653" stroke-width="1.2"/>
<rect x="265.1" y="1243.8" width="3.2" height="1.6" fill="#e07868" opacity="0.55"/>
<rect x="276.1" y="1241.1" width="13.4" height="12.4" rx="1.2" fill="url(#keyw)" stroke="#3a4653" stroke-width="1.2"/>
<rect x="279.6" y="1243.8" width="3.2" height="1.6" fill="#e07868" opacity="0.55"/>
<rect x="290.5" y="1241.1" width="13.5" height="12.4" rx="1.2" fill="url(#keyw)" stroke="#3a4653" stroke-width="1.2"/>
<rect x="294.0" y="1243.8" width="3.2" height="1.6" fill="#e07868" opacity="0.55"/>
<rect x="305.0" y="1241.1" width="38.0" height="12.4" rx="1.2" fill="url(#keyb)" stroke="#3a4653" stroke-width="1.2"/>
<rect x="308.5" y="1243.8" width="3.2" height="1.6" fill="#e07868" opacity="0.55"/>
<rect x="362.5" y="1241.1" width="13.5" height="12.4" rx="1.2" fill="url(#keyb)" stroke="#3a4653" stroke-width="1.2"/>
<rect x="366.0" y="1243.8" width="3.2" height="1.6" fill="#e07868" opacity="0.55"/>
<rect x="127.5" y="1255.5" width="17.0" height="13.6" rx="1.2" fill="url(#keyb)" stroke="#3a4653" stroke-width="1.2"/>
<rect x="131.0" y="1258.2" width="3.2" height="1.6" fill="#e07868" opacity="0.55"/>
<rect x="145.5" y="1255.5" width="17.0" height="13.6" rx="1.2" fill="url(#keyb)" stroke="#3a4653" stroke-width="1.2"/>
<rect x="149.0" y="1258.2" width="3.2" height="1.6" fill="#e07868" opacity="0.55"/>
<rect x="163.5" y="1255.5" width="17.0" height="13.6" rx="1.2" fill="url(#keyb)" stroke="#3a4653" stroke-width="1.2"/>
<rect x="167.0" y="1258.2" width="3.2" height="1.6" fill="#e07868" opacity="0.55"/>
<rect x="181.5" y="1255.5" width="88.0" height="13.6" rx="1.2" fill="url(#keyw)" stroke="#3a4653" stroke-width="1.2"/>
<rect x="185.0" y="1258.2" width="3.2" height="1.6" fill="#e07868" opacity="0.55"/>
<rect x="270.5" y="1255.5" width="17.0" height="13.6" rx="1.2" fill="url(#keyb)" stroke="#3a4653" stroke-width="1.2"/>
<rect x="274.0" y="1258.2" width="3.2" height="1.6" fill="#e07868" opacity="0.55"/>
<rect x="288.5" y="1255.5" width="17.0" height="13.6" rx="1.2" fill="url(#keyb)" stroke="#3a4653" stroke-width="1.2"/>
<rect x="292.0" y="1258.2" width="3.2" height="1.6" fill="#e07868" opacity="0.55"/>
<rect x="306.5" y="1255.5" width="18.0" height="13.6" rx="1.2" fill="url(#keyb)" stroke="#3a4653" stroke-width="1.2"/>
<rect x="310.0" y="1258.2" width="3.2" height="1.6" fill="#e07868" opacity="0.55"/>
<rect x="325.5" y="1255.5" width="17.5" height="13.6" rx="1.2" fill="url(#keyb)" stroke="#3a4653" stroke-width="1.2"/>
<rect x="329.0" y="1258.2" width="3.2" height="1.6" fill="#e07868" opacity="0.55"/>
<rect x="348.0" y="1255.5" width="13.5" height="13.6" rx="1.2" fill="url(#keyb)" stroke="#3a4653" stroke-width="1.2"/>
<rect x="351.5" y="1258.2" width="3.2" height="1.6" fill="#e07868" opacity="0.55"/>
<rect x="362.5" y="1255.5" width="13.5" height="13.6" rx="1.2" fill="url(#keyb)" stroke="#3a4653" stroke-width="1.2"/>
<rect x="366.0" y="1258.2" width="3.2" height="1.6" fill="#e07868" opacity="0.55"/>
<rect x="377.0" y="1255.5" width="13.5" height="13.6" rx="1.2" fill="url(#keyb)" stroke="#3a4653" stroke-width="1.2"/>
<rect x="380.5" y="1258.2" width="3.2" height="1.6" fill="#e07868" opacity="0.55"/>
<g fill="#333"><circle cx="353" cy="1230" r="0.9"/><circle cx="368" cy="1230" r="0.9"/><circle cx="383" cy="1230" r="0.9"/></g>
<path d="M521.0,1194.0 C524.4,1191.7 546.5,1184.1 552.0,1183.0 C557.5,1181.9 562.9,1183.8 568.0,1184.4 C573.1,1185.0 590.0,1186.1 596.0,1188.0 C602.0,1189.9 614.3,1197.3 619.0,1201.0 C623.7,1204.7 632.9,1215.1 636.0,1220.0 C639.1,1224.9 645.0,1239.4 646.0,1243.0 C647.0,1246.6 647.1,1248.8 645.0,1251.0 C642.9,1253.2 632.3,1260.4 628.0,1262.0 C623.7,1263.6 613.4,1266.3 608.0,1265.0 C602.6,1263.7 589.6,1252.0 582.0,1251.0 C574.4,1250.0 549.4,1257.0 543.0,1256.0 C536.6,1255.0 529.3,1248.2 527.0,1242.0 C524.7,1235.8 523.7,1208.6 523.0,1203.0 C522.3,1197.4 517.6,1196.3 521.0,1194.0 Z" fill="url(#mouseg)"/>
<path d="M522.0,1196.0 C523.9,1194.7 548.9,1184.7 552.0,1184.0 C555.1,1183.3 567.3,1184.6 568.0,1185.0 C568.7,1185.4 564.0,1188.8 563.0,1190.0 C562.0,1191.2 555.6,1202.1 553.0,1203.0 C550.4,1203.9 526.1,1204.5 524.0,1204.0 C521.9,1203.5 520.1,1197.3 522.0,1196.0 Z" fill="#4c4c4c"/>
<path d="M560.0,1200.0 C562.0,1196.8 582.0,1188.0 590.0,1188.0 C598.0,1188.0 614.4,1196.4 620.0,1200.0 C625.6,1203.6 633.3,1212.6 632.0,1215.0 C630.7,1217.4 617.6,1218.4 610.0,1218.0 C602.4,1217.6 581.7,1214.4 575.0,1212.0 C568.3,1209.6 558.0,1203.2 560.0,1200.0 Z" fill="#3a3a3a" opacity="0.7"/>
<path d="M550.0,1212.0 C556.7,1211.0 578.3,1205.5 590.0,1206.0 C601.7,1206.5 612.3,1209.3 620.0,1215.0 C627.7,1220.7 632.7,1233.3 636.0,1240.0 C639.3,1246.7 639.3,1252.5 640.0,1255.0" stroke="#0c0c0c" stroke-width="3" fill="none"/>
<path d="M620.0,1218.0 C621.3,1220.8 626.0,1229.7 628.0,1235.0 C630.0,1240.3 631.3,1247.5 632.0,1250.0" stroke="#aaa" stroke-width="1.5" fill="none"/>
<path d="M582.0,1251.0 C585.0,1250.0 593.7,1244.3 600.0,1245.0 C606.3,1245.7 616.7,1253.3 620.0,1255.0" stroke="#111" stroke-width="4" fill="none"/>
<path d="M583,1189.5 A8.5,5 0 1 0 589,1196.5 L583,1195" stroke="#22c4f4" stroke-width="3.4" fill="none" transform="rotate(-6 580 1194)"/>
<path d="M833.0,1222.0 C833.7,1218.3 835.0,1206.7 837.0,1200.0 C839.0,1193.3 841.5,1187.3 845.0,1182.0 C848.5,1176.7 853.0,1171.5 858.0,1168.0 C863.0,1164.5 869.3,1162.3 875.0,1161.0 C880.7,1159.7 886.7,1159.7 892.0,1160.0 C897.3,1160.3 902.5,1160.8 907.0,1163.0 C911.5,1165.2 916.0,1168.2 919.0,1173.0 C922.0,1177.8 923.8,1184.8 925.0,1192.0 C926.2,1199.2 926.3,1207.7 926.0,1216.0 C925.7,1224.3 923.5,1237.7 923.0,1242.0 L913.0,1242.0 C913.3,1237.7 915.0,1223.7 915.0,1216.0 C915.0,1208.3 914.5,1201.5 913.0,1196.0 C911.5,1190.5 908.8,1186.2 906.0,1183.0 C903.2,1179.8 900.3,1177.8 896.0,1177.0 C891.7,1176.2 885.0,1176.3 880.0,1178.0 C875.0,1179.7 869.8,1183.0 866.0,1187.0 C862.2,1191.0 859.5,1195.8 857.0,1202.0 C854.5,1208.2 852.0,1220.3 851.0,1224.0 Z" fill="#171717"/>
<path d="M908.0,1186.0 C908.4,1184.0 915.4,1175.4 917.0,1176.0 C918.6,1176.6 923.1,1188.0 924.0,1192.0 C924.9,1196.0 926.1,1211.0 926.0,1216.0 C925.9,1221.0 924.4,1239.6 923.0,1242.0 C921.6,1244.4 912.9,1242.8 912.0,1240.0 C911.1,1237.2 913.9,1218.4 914.0,1214.0 C914.1,1209.6 913.6,1198.8 913.0,1196.0 C912.4,1193.2 907.6,1188.0 908.0,1186.0 Z" fill="#5c5c5c"/>
<path d="M917.0,1182.0 C918.0,1185.0 921.8,1192.8 923.0,1200.0 C924.2,1207.2 923.8,1220.8 924.0,1225.0" stroke="#8a8a8a" stroke-width="1.5" fill="none"/>
<path d="M818.0,1250.0 C818.9,1245.5 822.7,1236.0 826.0,1232.0 C829.3,1228.0 838.2,1221.3 843.0,1220.0 C847.8,1218.7 857.9,1219.3 862.0,1222.0 C866.1,1224.7 872.4,1233.9 874.0,1240.0 C875.6,1246.1 875.1,1261.9 874.0,1268.0 C872.9,1274.1 869.7,1283.2 866.0,1286.0 C862.3,1288.8 851.1,1289.5 846.0,1289.0 C840.9,1288.5 831.6,1285.1 828.0,1282.0 C824.4,1278.9 820.3,1270.3 819.0,1266.0 C817.7,1261.7 817.1,1254.5 818.0,1250.0 Z" fill="#121212"/>
<path d="M818.0,1246.0 C818.7,1244.4 821.5,1241.7 823.0,1242.0 C824.5,1242.3 828.3,1245.9 829.0,1248.0 C829.7,1250.1 828.9,1256.4 828.0,1258.0 C827.1,1259.6 823.3,1260.5 822.0,1260.0 C820.7,1259.5 818.5,1255.9 818.0,1254.0 C817.5,1252.1 817.3,1247.6 818.0,1246.0 Z" fill="#555"/>
<path d="M832.0,1236.0 C834.3,1235.3 842.0,1231.3 846.0,1232.0 C850.0,1232.7 853.7,1235.0 856.0,1240.0 C858.3,1245.0 860.7,1255.3 860.0,1262.0 C859.3,1268.7 853.3,1277.0 852.0,1280.0" stroke="#262626" stroke-width="2" fill="none"/>
<path d="M855.0,1222.0 C857.7,1217.3 866.0,1212.1 872.0,1210.0 C878.0,1207.9 893.7,1204.7 900.0,1206.0 C906.3,1207.3 915.7,1214.8 919.0,1220.0 C922.3,1225.2 925.1,1238.1 925.0,1245.0 C924.9,1251.9 921.3,1266.5 918.0,1272.0 C914.7,1277.5 906.1,1284.1 900.0,1286.0 C893.9,1287.9 877.7,1288.1 872.0,1286.0 C866.3,1283.9 859.7,1275.5 857.0,1270.0 C854.3,1264.5 852.3,1251.4 852.0,1245.0 C851.7,1238.6 852.3,1226.7 855.0,1222.0 Z" fill="#161616"/>
<ellipse cx="900" cy="1251" rx="25" ry="29" transform="rotate(18 900 1251)" fill="#6e6e6e"/>
<ellipse cx="901" cy="1252" rx="22.5" ry="26.5" transform="rotate(18 901 1252)" fill="url(#headg)"/>
<path d="M867.0,1243.0 C869.2,1240.5 874.5,1231.8 880.0,1228.0 C885.5,1224.2 894.2,1222.2 900.0,1220.0 C905.8,1217.8 911.3,1218.3 915.0,1215.0 C918.7,1211.7 920.8,1202.5 922.0,1200.0" stroke="#7a7a7a" stroke-width="3.5" fill="none"/>
<path d="M881,1250 L897,1255" stroke="#666" stroke-width="0.8"/>
<g clip-path="url(#c2)">
<path d="M1259.0,1030.0 L1305.0,1030.0 L1288.0,1080.0 L1261.6,1156.0 L1197.0,1126.8 L1241.0,1057.9 Z" fill="url(#braid)"/>
<path d="M1190.0,1128.0 C1193.6,1124.5 1207.7,1122.0 1215.0,1122.0 C1222.3,1122.0 1238.7,1125.9 1245.0,1128.0 C1251.3,1130.1 1259.5,1133.7 1262.0,1138.0 C1264.5,1142.3 1265.6,1155.7 1264.0,1160.0 C1262.4,1164.3 1257.9,1170.0 1250.0,1170.0 C1242.1,1170.0 1213.3,1162.9 1205.0,1160.0 C1196.7,1157.1 1190.0,1152.3 1188.0,1148.0 C1186.0,1143.7 1186.4,1131.5 1190.0,1128.0 Z" fill="#141414"/>
<g stroke="#050505" stroke-width="3" fill="none"><path d="M1195,1136 C1215,1130 1245,1138 1262,1148"/><path d="M1192,1147 C1215,1142 1245,1150 1262,1160"/></g>
<g stroke="#2a2a2a" stroke-width="1.5" fill="none"><path d="M1195,1140 C1215,1135 1245,1142 1262,1152"/></g>
<path d="M1135.0,1142.5 L1148.6,1136.7 L1278.1,1173.5 L1284.0,1191.0 L1278.4,1240.0 L1257.4,1317.0 L1251.8,1325.5 L1233.6,1329.7 L1215.4,1366.0 L1067.4,1332.0 L1071.3,1260.4 L1085.8,1205.4 Z" fill="#1a1a1a"/>
<path d="M1085.8,1205.4 C1079.5,1200.3 1131.9,1145.9 1135.0,1142.5 C1138.1,1139.1 1141.4,1135.2 1148.6,1136.7 C1155.8,1138.2 1271.4,1171.2 1278.1,1173.5 C1284.8,1175.8 1282.9,1180.4 1283.0,1183.0 C1283.1,1185.6 1282.1,1222.0 1281.0,1225.0 C1279.9,1228.0 1270.5,1245.0 1260.7,1244.0 C1250.9,1243.0 1092.1,1210.5 1085.8,1205.4 Z" fill="#292929"/>
<path d="M1283.0,1183.0 L1284.0,1191.0 L1278.4,1240.0 L1257.4,1317.0 L1255.0,1320.0 L1260.0,1250.0 L1260.7,1244.0 L1281.0,1225.0 Z" fill="#1f1f1f"/>
<path d="M1085.8,1208.0 L1260.7,1247.0 L1256.0,1318.0 L1221.0,1301.7 L1071.3,1260.4 Z" fill="#262626"/>
<path d="M1085.8,1206.5 C1140,1216 1200,1230 1260.7,1245.5" stroke="#121212" stroke-width="4" fill="none"/>
<path d="M1144.7,1235.3 L1185.3,1245.0 L1183.4,1291.4 L1140.9,1279.8 Z" fill="#0c0c0c"/>
<path d="M1146.0,1240.0 L1184.0,1249.0 L1184.0,1262.0 L1145.0,1252.0 Z" fill="#1e1e1e"/>
<path d="M1071.3,1260.4 L1221.0,1301.7 L1215.4,1366.0 L1067.4,1332.0 Z" fill="#1c1c1c"/>
<path d="M1221.0,1301.7 L1233.6,1329.7 L1215.4,1366.0 Z" fill="#2c2c2c"/>
<path d="M1080.9,1270.1 L1212.0,1303.0 L1208.0,1358.0 L1075.1,1328.1 Z" fill="#0a0a0a"/>
<path d="M1140.9,1279.8 L1183.4,1291.4 L1170.0,1300.0 L1130.0,1290.0 Z" fill="#161616"/>
<g stroke="#e6d28a" stroke-width="3.2" stroke-linecap="round" fill="none"><path d="M1133.1,1272 L1117.7,1299.1"/><path d="M1156.3,1283.6 L1144.7,1304.9"/><path d="M1177.6,1293.3 L1169.9,1310.7"/></g>
<circle cx="1092.5" cy="1309.7" r="2.4" fill="#eadca8"/>
<circle cx="1117.7" cy="1317.5" r="2.4" fill="#eadca8"/>
<circle cx="1142.8" cy="1324.2" r="2.4" fill="#eadca8"/>
<circle cx="1167.9" cy="1330" r="2.4" fill="#eadca8"/>
<circle cx="1196" cy="1317.5" r="2.4" fill="#eadca8"/>
<circle cx="1194" cy="1336.8" r="2.4" fill="#eadca8"/>
</g>

<text x="728.5" y="946.5" font-size="38" fill="#000" textLength="267" lengthAdjust="spacing">Computer Host</text>
<text x="173" y="1326" font-size="38" fill="#000" textLength="171" lengthAdjust="spacing">Keyboard</text>
<text x="523.5" y="1329.5" font-size="38" fill="#000" textLength="120" lengthAdjust="spacing">Mouse</text>
<text x="796.7" y="1330.5" font-size="38" fill="#000" textLength="146.9" lengthAdjust="spacing">Headset</text>

</svg>
</body></html>
